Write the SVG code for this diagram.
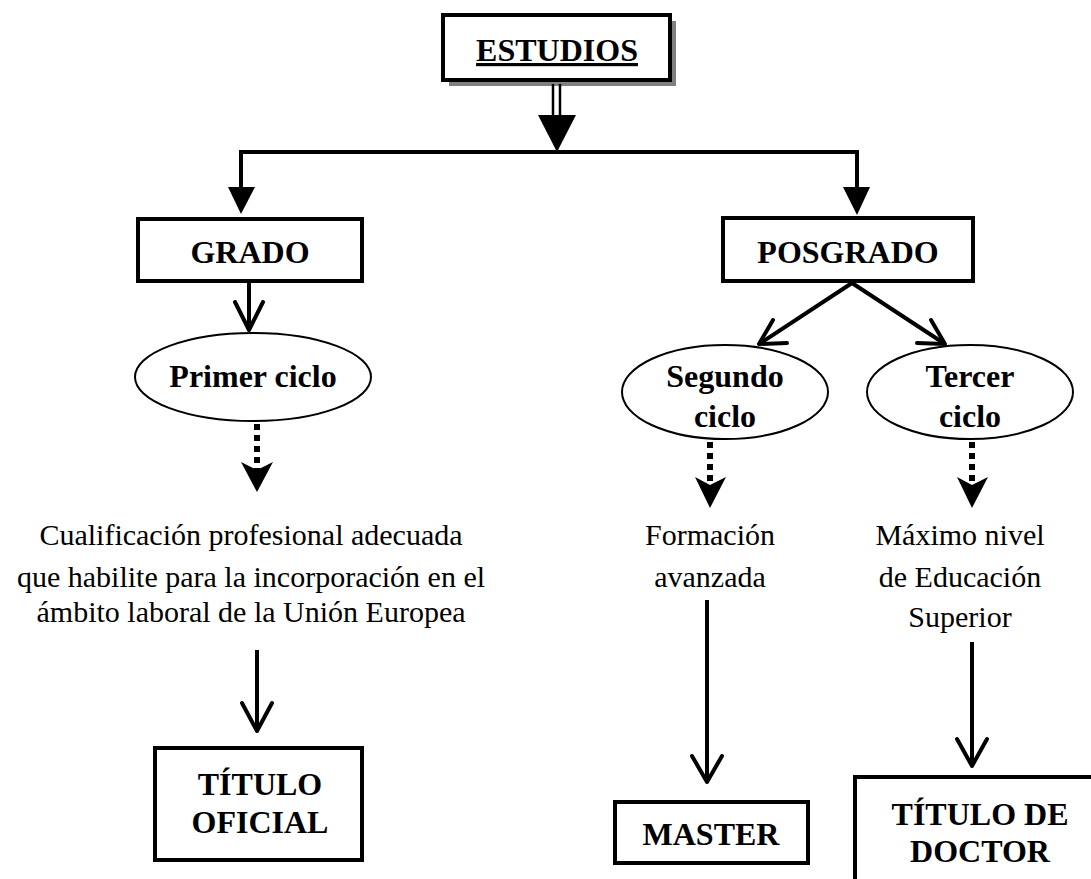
<svg xmlns="http://www.w3.org/2000/svg" width="1091" height="879" viewBox="0 0 1091 879">
<style>
.box{fill:#fff;stroke:#000;stroke-width:4}
.ell{fill:#fff;stroke:#000;stroke-width:2}
.b{font-family:"Liberation Serif","Times New Roman",serif;font-weight:bold;font-size:32px;fill:#000;text-anchor:middle}
.r{font-family:"Liberation Serif","Times New Roman",serif;font-size:30px;fill:#000;text-anchor:middle}
.ln{fill:none;stroke:#000;stroke-width:4}
.open{fill:none;stroke:#000;stroke-width:4;stroke-linecap:round;stroke-linejoin:round}
.dot{fill:none;stroke:#000;stroke-width:6;stroke-dasharray:6 5}
</style>
<rect width="1091" height="879" fill="#fff"/>
<g id="estudios">
<rect x="449" y="21" width="227" height="65" fill="#808080"/>
<rect class="box" x="443" y="15" width="227" height="65"/>
<text class="b" x="557" y="61" font-size="33" text-decoration="underline">ESTUDIOS</text>
</g>
<g id="grado">
<rect class="box" x="138" y="219" width="224" height="62"/>
<text class="b" x="250" y="263">GRADO</text>
</g>
<g id="posgrado">
<rect class="box" x="723" y="218" width="250" height="63"/>
<text class="b" x="848" y="263">POSGRADO</text>
</g>
<g id="primer">
<ellipse class="ell" cx="253" cy="377" rx="118" ry="44"/>
<text class="b" x="253" y="387">Primer ciclo</text>
</g>
<g id="segundo">
<ellipse class="ell" cx="725" cy="392" rx="103" ry="47"/>
<text class="b" x="725" y="387">Segundo</text>
<text class="b" x="725" y="427">ciclo</text>
</g>
<g id="tercer">
<ellipse class="ell" cx="970" cy="392" rx="103" ry="47"/>
<text class="b" x="970" y="387">Tercer</text>
<text class="b" x="970" y="427">ciclo</text>
</g>
<g id="cualificacion">
<text class="r" x="251" y="545">Cualificación profesional adecuada</text>
<text class="r" x="251" y="587">que habilite para la incorporación en el</text>
<text class="r" x="251" y="622">ámbito laboral de la Unión Europea</text>
</g>
<g id="formacion">
<text class="r" x="710" y="545">Formación</text>
<text class="r" x="710" y="587">avanzada</text>
</g>
<g id="maximo">
<text class="r" x="960" y="545">Máximo nivel</text>
<text class="r" x="960" y="587">de Educación</text>
<text class="r" x="960" y="627">Superior</text>
</g>
<g id="titulo-oficial">
<rect class="box" x="155" y="748" width="207" height="112"/>
<text class="b" x="260" y="795">TÍTULO</text>
<text class="b" x="260" y="833">OFICIAL</text>
</g>
<g id="master">
<rect class="box" x="615" y="802" width="193" height="61"/>
<text class="b" x="711" y="845">MASTER</text>
</g>
<g id="titulo-doctor">
<rect class="box" x="855" y="777" width="240" height="110"/>
<text class="b" x="980" y="825">TÍTULO DE</text>
<text class="b" x="980" y="862">DOCTOR</text>
</g>
<g id="connectors">
<line x1="553" y1="84" x2="553" y2="116" stroke="#000" stroke-width="2.5"/>
<line x1="560" y1="84" x2="560" y2="116" stroke="#000" stroke-width="2.5"/>
<polygon points="538,115 576,115 557,152" fill="#000"/>
<polyline class="ln" points="241,190 241,152 857,152 857,190"/>
<polygon points="228,187 255,187 241,214" fill="#000"/>
<polygon points="843,187 870,187 857,215" fill="#000"/>
<line class="ln" x1="249" y1="281" x2="249" y2="330"/>
<polyline class="open" points="235,302 249,330 263,302"/>
<line class="ln" x1="852" y1="283" x2="759" y2="344"/>
<polyline class="open" points="773,320 759,344 787,343"/>
<line class="ln" x1="852" y1="283" x2="945" y2="344"/>
<polyline class="open" points="931,320 945,344 917,343"/>
<line class="dot" x1="257" y1="424" x2="257" y2="470"/>
<polygon points="241,462 257,470 273,462 257,492" fill="#000"/>
<line class="dot" x1="710" y1="442" x2="710" y2="485"/>
<polygon points="695,477 710,485 726,477 710,508" fill="#000"/>
<line class="dot" x1="972" y1="442" x2="972" y2="485"/>
<polygon points="957,477 972,485 988,477 972,508" fill="#000"/>
<line class="ln" x1="257" y1="650" x2="257" y2="731"/>
<polyline class="open" points="242,703 257,731 272,703"/>
<line class="ln" x1="707" y1="600" x2="707" y2="782"/>
<polyline class="open" points="692,756 707,782 722,756"/>
<line class="ln" x1="972" y1="642" x2="972" y2="766"/>
<polyline class="open" points="957,739 972,766 987,739"/>
</g>
</svg>
